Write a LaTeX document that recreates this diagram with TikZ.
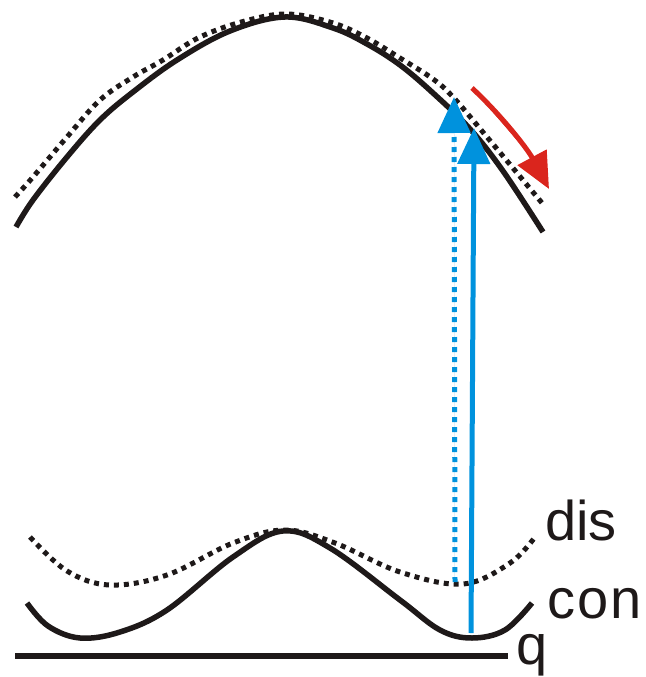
\documentclass[tikz,border=0pt]{standalone}
\usepackage{fontspec}
\setmainfont{Liberation Sans}
\usetikzlibrary{arrows.meta}
\definecolor{myblue}{RGB}{0,146,221}
\definecolor{myred}{RGB}{218,37,29}
\definecolor{myblack}{RGB}{30,25,25}
\tikzset{
  solidcurve/.style={line width=5.5pt, draw=myblack},
  dotcurve/.style={line width=5pt, draw=myblack, dash pattern=on 5pt off 5pt},
  bluearrow/.style={line width=5pt, draw=myblue, -{Triangle[length=36pt,width=32pt]}, fill=myblue},
  bluedotarrow/.style={line width=5pt, draw=myblue, dash pattern=on 5pt off 5pt, -{Triangle[length=36pt,width=32pt]}, fill=myblue},
  redarrow/.style={line width=5pt, draw=myred, -{Triangle[length=36pt,width=32pt]}, fill=myred},
  lbl/.style={inner sep=0pt, anchor=base west, font=\fontsize{56}{60}\selectfont, text=myblack}
}
\begin{document}
\begin{tikzpicture}[x=1pt,y=-1pt]
\useasboundingbox (0,0) rectangle (645,677);
% top curves
\draw[solidcurve] plot[smooth, tension=0.6] coordinates {(16,227) (33,200) (67,157) (100,120) (133,92) (177,60) (230,31) (285,17) (333,28) (367,44) (400,65) (433,93) (470,129) (503,171) (543,232)};
\draw[dotcurve] plot[smooth, tension=0.6] coordinates {(15,197) (33,177) (67,137) (100,100) (133,77) (163,60) (200,37) (245,21) (288,14) (333,23) (367,38) (400,58) (433,79) (453,97) (487,137) (542,203)};
% bottom curves
\draw[solidcurve] plot[smooth, tension=0.6] coordinates {(27,603) (48,626) (80,638) (120,632) (167,610) (233,557) (283,531) (330,548) (400,600) (440,630) (472,638) (505,630) (532,603)};
\draw[dotcurve] plot[smooth, tension=0.6] coordinates {(30,537) (67,571) (110,585) (167,575) (233,543) (285,530) (335,543) (400,572) (463,584) (510,563) (535,537)};
% baseline
\draw[line width=5.5pt, draw=myblack] (15,656) -- (508,656);
% arrows
\coordinate (bs) at (471,633);
\coordinate (bt) at (474,128);
\coordinate (ds) at (455,582);
\coordinate (dt) at (454,97);
\coordinate (rs) at (472,88);
\coordinate (rt) at (549,189);
\draw[bluedotarrow] (ds) -- (dt);
\draw[bluearrow] (bs) -- (bt);
\draw[redarrow] (rs) .. controls (500,114) and (527,148) .. (rt);
% labels
\node[lbl] (dis) at (545,540) {dis};
\node[lbl] (con) at (547,618) {c\kern2pt o\kern2pt n};
\node[lbl] (q) at (516,664) {q};
\end{tikzpicture}
\end{document}
